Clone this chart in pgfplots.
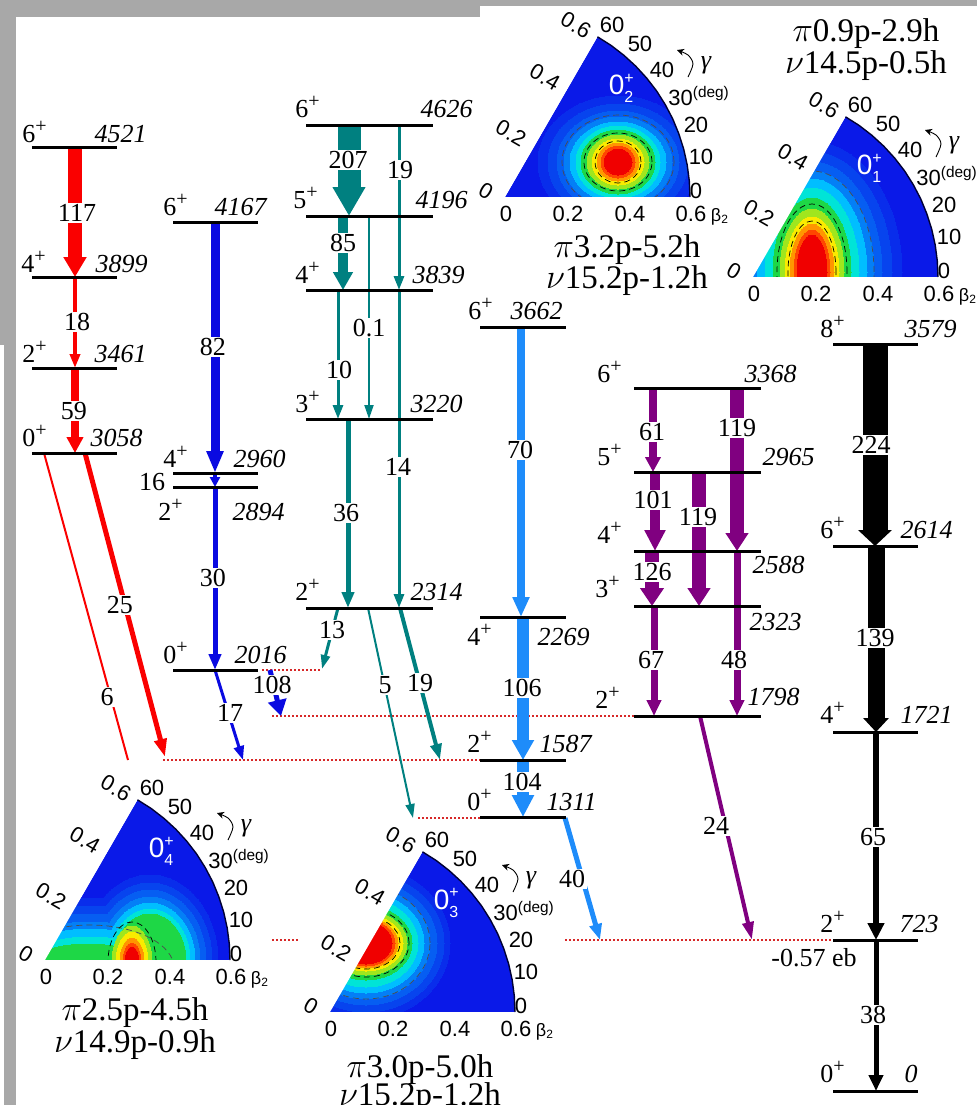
\documentclass[border=0pt]{standalone}
\usepackage{fontspec}
\setmainfont{Liberation Serif}
\setsansfont{Liberation Sans}
\usepackage{pgfplots}
\pgfplotsset{compat=1.18}
\usepackage{pgfplotstable}
\usetikzlibrary{arrows.meta}

\definecolor{cRed}{RGB}{250,0,0}
\definecolor{cBlue}{RGB}{10,10,225}
\definecolor{cTeal}{RGB}{0,128,128}
\definecolor{cLBlue}{RGB}{30,140,250}
\definecolor{cPurp}{RGB}{128,0,128}
\definecolor{cDot}{RGB}{215,40,40}
\definecolor{cGray}{RGB}{168,168,168}
\definecolor{pB}{RGB}{10,25,232}
\definecolor{pC1}{RGB}{0,190,255}
\colorlet{h1}{pB!88!pC1}
\colorlet{h2}{pB!74!pC1}
\colorlet{h3}{pB!58!pC1}
\colorlet{h4}{pB!38!pC1}
\definecolor{pC2}{RGB}{0,228,215}
\definecolor{pG}{RGB}{30,215,70}
\definecolor{pYG}{RGB}{160,230,30}
\definecolor{pY}{RGB}{250,235,0}
\definecolor{pO}{RGB}{255,150,0}
\definecolor{pRO}{RGB}{255,70,0}
\definecolor{pR}{RGB}{240,0,0}

\pgfplotstableread{
dx dy
0 0
185 0
184.3 16.1
182.2 32.1
178.7 47.9
173.8 63.3
167.7 78.2
160.2 92.5
151.6 106.1
141.7 118.9
130.8 130.8
118.9 141.7
106.1 151.6
92.5 160.2
}\sectortab
\pgfplotstableread{
dx dy
185 0
184.3 16.1
182.2 32.1
178.7 47.9
173.8 63.3
167.7 78.2
160.2 92.5
151.6 106.1
141.7 118.9
130.8 130.8
118.9 141.7
106.1 151.6
92.5 160.2
}\arctab
\pgfplotstableread{
dx dy
185 0
184.3 16.1
182.2 32.1
178.7 47.9
173.8 63.3
167.7 78.2
160.2 92.5
151.6 106.1
141.7 118.9
130.8 130.8
118.9 141.7
106.1 151.6
92.5 160.2
92.5 185
215 185
215 0
}\omasktab
\pgfplotstableread{
dx dy
0 0
92.5 160.2
-50 160.2
-50 0
}\lmasktab
\pgfplotstableread{
dx dy
-50 0
205 0
205 -140
-50 -140
}\bmasktab
\pgfplotstableread{
dx dy
183 120
188 133
183 142
172 147
}\gamtab

\newcommand{\blob}[4]{\addplot[only marks, mark=*, mark size={#2*0.5}, mark options={fill=#4, draw=#4, line width=0pt, yscale={#3/#2}}] coordinates {#1};}
\newcommand{\cont}[4]{\addplot[only marks, mark=o, mark size={#2*0.5}, mark options={draw=#4, line width=0.35pt, densely dashed, yscale={#3/#2}}] coordinates {#1};}
\newcommand{\sectorfill}[2]{\addplot[fill=pB, draw=none] table[x expr=\thisrow{dx}+#1, y expr=#2-\thisrow{dy}] {\sectortab};}
\newcommand{\sectorfinish}[2]{%
\addplot[fill=white, draw=none] table[x expr=\thisrow{dx}+#1, y expr=#2-\thisrow{dy}] {\lmasktab};
\addplot[fill=white, draw=none] table[x expr=\thisrow{dx}+#1, y expr=#2-\thisrow{dy}] {\bmasktab};
\addplot[fill=white, draw=none] table[x expr=\thisrow{dx}+#1, y expr=#2-\thisrow{dy}] {\omasktab};
\addplot[draw=black!80!blue, line width=0.7pt] table[x expr=\thisrow{dx}+#1, y expr=#2-\thisrow{dy}] {\arctab};
\addplot[black, line width=0.45pt, smooth, -{Stealth[length=3.5pt,width=3.5pt]}] table[x expr=\thisrow{dx}+#1, y expr=#2-\thisrow{dy}] {\gamtab};
}
\tikzset{
 pl/.style={font=\sffamily\fontsize{11}{12}\selectfont, inner sep=0pt},
 pls/.style={font=\sffamily\fontsize{9}{10}\selectfont, inner sep=0pt},
 tt/.style={font=\fontsize{16.5}{18}\selectfont, inner sep=0pt},
 num/.style={font=\fontsize{13}{15}\selectfont, fill=white, inner sep=0.8pt},
 sw/.style={font=\fontsize{13}{15}\selectfont, inner sep=0pt, anchor=base west},
 ee/.style={font=\fontsize{13}{15}\selectfont\itshape, inner sep=0pt, anchor=base east},
}
\newcommand{\spin}[1]{#1\raisebox{0.8ex}{\fontsize{10}{10}\selectfont +}}
\newcommand{\polarlabels}[3]{%
\node[pl] at (axis cs:{#1+1},{#2+17}) {0};
\node[pl] at (axis cs:{#1+63},{#2+17}) {0.2};
\node[pl] at (axis cs:{#1+125},{#2+17}) {0.4};
\node[pl] at (axis cs:{#1+186},{#2+17}) {0.6};
\node[pls] at (axis cs:{#1+215},{#2+20}) {β\textsubscript{2}};
\node[pl,rotate=-30] at (axis cs:{#1-19},{#2-6}) {0};
\node[pl,rotate=-30] at (axis cs:{#1+6},{#2-64}) {0.2};
\node[pl,rotate=-30] at (axis cs:{#1+40},{#2-120}) {0.4};
\node[pl,rotate=-30] at (axis cs:{#1+71},{#2-172}) {0.6};
\node[pl] at (axis cs:{#1+107},{#2-172}) {60};
\node[pl] at (axis cs:{#1+135},{#2-153}) {50};
\node[pl] at (axis cs:{#1+157},{#2-127}) {40};
\node[pl,anchor=west] at (axis cs:{#1+163},{#2-101}) {30\textsuperscript{(deg)}};
\node[pl] at (axis cs:{#1+191},{#2-72}) {20};
\node[pl] at (axis cs:{#1+196},{#2-40}) {10};
\node[pl] at (axis cs:{#1+191},{#2-6}) {0};
\node[font=\itshape\fontsize{13}{13}\selectfont, inner sep=0pt] at (axis cs:{#1+201},{#2-132}) {γ};
\node[text=white, font=\sffamily\fontsize{14}{14}\selectfont, inner sep=0pt] at (axis cs:{#1+116},{#2-109}) {0\makebox[0pt][l]{\raisebox{0.8ex}{\fontsize{8}{8}\selectfont +}}\raisebox{-0.5ex}{\fontsize{8}{8}\selectfont #3}};
}

\begin{document}
\begin{tikzpicture}
\useasboundingbox (0,0) rectangle (488.5pt,552.5pt);
\clip (0,0) rectangle (488.5pt,552.5pt);
\begin{axis}[
  at={(0,0)}, anchor=south west,
  scale only axis, width=488.5pt, height=552.5pt,
  xmin=0, xmax=977, ymin=0, ymax=1105, y dir=reverse,
  hide axis, clip marker paths=true,
]
% ---------------- polar maps ----------------
\sectorfill{505}{197}
\sectorfill{753}{277}
\sectorfill{45}{960}
\sectorfill{330}{1012}
% 0_2
\blob{(618,162)}{80}{66}{h1}
\blob{(618,162)}{70}{58}{h2}
\blob{(618,162)}{61}{51}{h3}
\blob{(618,162)}{54}{45}{h4}
\blob{(618,162)}{48}{40}{pC1}
\blob{(618,162)}{42}{36}{pC2}
\blob{(618,162)}{37}{32}{pG}
\blob{(618,162)}{31}{27}{pYG}
\blob{(618,162)}{26}{23}{pY}
\blob{(618,162)}{21}{19}{pO}
\blob{(618,162)}{17}{16}{pRO}
\blob{(618,162)}{14}{13}{pR}
\cont{(618,162)}{56}{47}{black!70}
\cont{(618,162)}{34}{29}{black}
\cont{(618,162)}{23}{21}{black}
% 0_1
\blob{(812,272)}{90}{130}{h1}
\blob{(812,272)}{80}{120}{h2}
\blob{(812,272)}{70}{110}{h3}
\blob{(812,272)}{62}{101}{h4}
\blob{(812,272)}{55}{93}{pC1}
\blob{(812,272)}{47}{84}{pC2}
\blob{(812,272)}{39}{74}{pG}
\blob{(812,272)}{32}{63}{pYG}
\blob{(812,272)}{27}{55}{pY}
\blob{(812,272)}{22}{48}{pO}
\blob{(812,272)}{18}{42}{pRO}
\blob{(812,272)}{15}{37}{pR}
\cont{(812,272)}{62}{101}{black!70}
\cont{(812,272)}{35}{68}{black}
\cont{(812,272)}{24}{51}{black}
% 0_4
\blob{(90,968)}{115}{70}{h1}
\blob{(150,960)}{68}{85}{h1}
\blob{(90,968)}{105}{62}{h2}
\blob{(150,960)}{62}{77}{h2}
\blob{(90,968)}{96}{54}{h3}
\blob{(150,960)}{56}{70}{h3}
\blob{(90,968)}{88}{46}{h4}
\blob{(150,960)}{50}{63}{h4}
\blob{(90,968)}{80}{39}{pC1}
\blob{(150,960)}{45}{57}{pC1}
\blob{(90,968)}{71}{31}{pC2}
\blob{(150,960)}{40}{51}{pC2}
\blob{(88,968)}{62}{24}{pG}
\blob{(150,960)}{36}{46}{pG}
\blob{(132,962)}{20}{36}{pYG}
\blob{(132,962)}{16}{30}{pY}
\blob{(132,962)}{12}{24}{pO}
\blob{(132,962)}{9}{19}{pRO}
\blob{(132,962)}{7}{15}{pR}
\cont{(90,968)}{84}{43}{black!70}
\cont{(132,962)}{24}{40}{black}
% 0_3
\blob{(366,943)}{84}{76}{h1}
\blob{(366,943)}{78}{69}{h2}
\blob{(366,943)}{71}{62}{h3}
\blob{(366,943)}{64}{56}{h4}
\blob{(366,943)}{58}{50}{pC1}
\blob{(366,943)}{52}{44}{pC2}
\blob{(366,943)}{46}{37}{pG}
\blob{(366,943)}{41}{32}{pYG}
\blob{(366,943)}{37}{28}{pY}
\blob{(366,943)}{32}{25}{pO}
\blob{(366,943)}{29}{23}{pRO}
\blob{(366,943)}{26}{21}{pR}
\cont{(366,943)}{64}{56}{black!70}
\cont{(366,943)}{43}{34}{black}
\cont{(366,943)}{34}{26}{black}
% masks, arcs
\sectorfinish{505}{197}
\sectorfinish{753}{277}
\sectorfinish{45}{960}
\sectorfinish{330}{1012}
\polarlabels{505}{197}{2}
\polarlabels{753}{277}{1}
\polarlabels{45}{960}{4}
\polarlabels{330}{1012}{3}
% titles of maps
\node[tt] at (627,250) {$\pi$3.2p-5.2h};
\node[tt] at (627,281) {$\nu$15.2p-1.2h};
\node[tt] at (866,34) {$\pi$0.9p-2.9h};
\node[tt] at (866,66) {$\nu$14.5p-0.5h};
\node[tt] at (135,1013) {$\pi$2.5p-4.5h};
\node[tt] at (135,1045) {$\nu$14.9p-0.9h};
\node[tt] at (420,1070) {$\pi$3.0p-5.0h};
\node[tt] at (420,1098) {$\nu$15.2p-1.2h};

% ---------------- dotted reference lines ----------------
\addplot[cDot, line width=1pt, densely dotted] coordinates {(163,760) (480,760)};
\addplot[cDot, line width=1pt, densely dotted] coordinates {(418,818) (480,818)};
\addplot[cDot, line width=1pt, densely dotted] coordinates {(272,716) (634,716)};
\addplot[cDot, line width=1pt, densely dotted] coordinates {(262,670) (322,670)};
\addplot[cDot, line width=1pt, densely dotted] coordinates {(272,940) (300,940)};
\addplot[cDot, line width=1pt, densely dotted] coordinates {(565,940) (833,940)};

% ---------------- transitions ----------------
% red
\addplot[cRed, line width=7pt, -{Triangle[width=11pt,length=10pt]}] coordinates {(75,147) (75,277)};
\addplot[cRed, line width=2pt, -{Triangle[width=5pt,length=7pt]}] coordinates {(75,277) (75,368)};
\addplot[cRed, line width=4pt, -{Triangle[width=8pt,length=8pt]}] coordinates {(75,368) (75,453)};
\addplot[cRed, line width=2.5pt, -{Triangle[width=6pt,length=9pt]}] coordinates {(85,453) (165,757)};
\addplot[cRed, line width=1pt] coordinates {(44,453) (128,760)};
% blue
\addplot[cBlue, line width=4.5pt, -{Triangle[width=8pt,length=11pt]}] coordinates {(215,222) (215,473)};
\addplot[cBlue, line width=2pt, -{Triangle[width=5pt,length=5pt]}] coordinates {(215,473) (215,487)};
\addplot[cBlue, line width=2.5pt, -{Triangle[width=6pt,length=8pt]}] coordinates {(215,487) (215,670)};
\addplot[cBlue, line width=1.5pt, -{Triangle[width=5pt,length=7pt]}] coordinates {(215,670) (243,760)};
\addplot[cBlue, line width=2.5pt, -{Triangle[width=9pt,length=8pt]}] coordinates {(270,670) (281,716)};
% teal
\addplot[cTeal, line width=11.5pt, -{Triangle[width=15.5pt,length=14.5pt]}] coordinates {(349,125) (349,216)};
\addplot[cTeal, line width=1.5pt, -{Triangle[width=5pt,length=7pt]}] coordinates {(399,125) (399,290)};
\addplot[cTeal, line width=5pt, -{Triangle[width=9.5pt,length=9pt]}] coordinates {(343,216) (343,290)};
\addplot[cTeal, line width=1pt, -{Triangle[width=4.5pt,length=7pt]}] coordinates {(369,216) (369,419)};
\addplot[cTeal, line width=1.5pt, -{Triangle[width=5pt,length=7pt]}] coordinates {(338,290) (338,419)};
\addplot[cTeal, line width=1.5pt, -{Triangle[width=5pt,length=7pt]}] coordinates {(399,290) (399,608)};
\addplot[cTeal, line width=2.5pt, -{Triangle[width=6pt,length=8pt]}] coordinates {(348,419) (348,608)};
\addplot[cTeal, line width=1.5pt, -{Triangle[width=4.5pt,length=7pt]}] coordinates {(338,608) (322,669)};
\addplot[cTeal, line width=1pt, -{Triangle[width=4.5pt,length=7pt]}] coordinates {(368,608) (413,818)};
\addplot[cTeal, line width=2pt, -{Triangle[width=5.5pt,length=8pt]}] coordinates {(400,608) (440,760)};
% light blue
\addplot[cLBlue, line width=4pt, -{Triangle[width=8pt,length=10pt]}] coordinates {(521,327) (521,617)};
\addplot[cLBlue, line width=6pt, -{Triangle[width=10.5pt,length=10pt]}] coordinates {(523,617) (523,760)};
\addplot[cLBlue, line width=6pt, -{Triangle[width=10.5pt,length=11pt]}] coordinates {(523,760) (523,817)};
\addplot[cLBlue, line width=2.5pt, -{Triangle[width=6pt,length=8pt]}] coordinates {(565,818) (600,940)};
% purple
\addplot[cPurp, line width=4pt, -{Triangle[width=7.5pt,length=7.5pt]}] coordinates {(653,388) (653,472)};
\addplot[cPurp, line width=7pt, -{Triangle[width=11pt,length=9pt]}] coordinates {(737,388) (737,551)};
\addplot[cPurp, line width=5pt, -{Triangle[width=10pt,length=10.5pt]}] coordinates {(655,472) (655,551)};
\addplot[cPurp, line width=7pt, -{Triangle[width=11pt,length=9pt]}] coordinates {(699,472) (699,606)};
\addplot[cPurp, line width=7pt, -{Triangle[width=11.5pt,length=9pt]}] coordinates {(652,551) (652,606)};
\addplot[cPurp, line width=3.5pt, -{Triangle[width=7pt,length=8pt]}] coordinates {(654,606) (654,716)};
\addplot[cPurp, line width=3.5pt, -{Triangle[width=7pt,length=8pt]}] coordinates {(737,551) (737,716)};
\addplot[cPurp, line width=2pt, -{Triangle[width=5.5pt,length=9pt]}] coordinates {(700,716) (752,940)};
% black
\addplot[black, line width=12.5pt, -{Triangle[width=16.5pt,length=8pt]}] coordinates {(875,344) (875,546)};
\addplot[black, line width=8.5pt, -{Triangle[width=12.5pt,length=7pt]}] coordinates {(876,546) (876,732)};
\addplot[black, line width=3pt, -{Triangle[width=8pt,length=8.5pt]}] coordinates {(876,732) (876,940)};
\addplot[black, line width=2.5pt, -{Triangle[width=7pt,length=8pt]}] coordinates {(876,940) (876,1091)};

% ---------------- levels ----------------
\addplot[black, line width=1.5pt] coordinates {(32,147) (117,147)};
\addplot[black, line width=1.5pt] coordinates {(32,277) (117,277)};
\addplot[black, line width=1.5pt] coordinates {(32,368) (117,368)};
\addplot[black, line width=1.5pt] coordinates {(32,453) (117,453)};
\addplot[black, line width=1.5pt] coordinates {(173,222) (258,222)};
\addplot[black, line width=1.5pt] coordinates {(173,473) (258,473)};
\addplot[black, line width=1.5pt] coordinates {(173,487) (258,487)};
\addplot[black, line width=1.5pt] coordinates {(173,670) (258,670)};
\addplot[black, line width=1.5pt] coordinates {(306,125) (433,125)};
\addplot[black, line width=1.5pt] coordinates {(306,216) (433,216)};
\addplot[black, line width=1.5pt] coordinates {(306,290) (433,290)};
\addplot[black, line width=1.5pt] coordinates {(306,419) (433,419)};
\addplot[black, line width=1.5pt] coordinates {(306,608) (433,608)};
\addplot[black, line width=1.5pt] coordinates {(480,327) (566,327)};
\addplot[black, line width=1.5pt] coordinates {(480,617) (566,617)};
\addplot[black, line width=1.5pt] coordinates {(480,760) (566,760)};
\addplot[black, line width=1.5pt] coordinates {(480,817) (566,817)};
\addplot[black, line width=1.5pt] coordinates {(634,388) (761,388)};
\addplot[black, line width=1.5pt] coordinates {(634,472) (761,472)};
\addplot[black, line width=1.5pt] coordinates {(634,551) (761,551)};
\addplot[black, line width=1.5pt] coordinates {(634,606) (761,606)};
\addplot[black, line width=1.5pt] coordinates {(634,716) (761,716)};
\addplot[black, line width=1.5pt] coordinates {(833,344) (918,344)};
\addplot[black, line width=1.5pt] coordinates {(833,546) (918,546)};
\addplot[black, line width=1.5pt] coordinates {(833,732) (918,732)};
\addplot[black, line width=1.5pt] coordinates {(833,940) (918,940)};
\addplot[black, line width=1.5pt] coordinates {(833,1091) (918,1091)};

% ---------------- level labels ----------------
\node[sw] at (22,142) {\spin{6}};  \node[ee] at (147,142) {4521};
\node[sw] at (21,272) {\spin{4}};  \node[ee] at (148,272) {3899};
\node[sw] at (22,362) {\spin{2}};  \node[ee] at (147,362) {3461};
\node[sw] at (22,446) {\spin{0}};  \node[ee] at (143,446) {3058};
\node[sw] at (163,215) {\spin{6}}; \node[ee] at (267,215) {4167};
\node[sw] at (163,467) {\spin{4}}; \node[ee] at (286,467) {2960};
\node[sw] at (158,520) {\spin{2}}; \node[ee] at (285,520) {2894};
\node[sw] at (163,663) {\spin{0}}; \node[ee] at (287,663) {2016};
\node[sw] at (295,117) {\spin{6}}; \node[ee] at (473,117) {4626};
\node[sw] at (293,208) {\spin{5}}; \node[ee] at (468,208) {4196};
\node[sw] at (295,283) {\spin{4}}; \node[ee] at (465,283) {3839};
\node[sw] at (295,412) {\spin{3}}; \node[ee] at (463,412) {3220};
\node[sw] at (295,600) {\spin{2}}; \node[ee] at (463,600) {2314};
\node[sw] at (468,319) {\spin{6}}; \node[ee] at (563,319) {3662};
\node[sw] at (467,645) {\spin{4}}; \node[ee] at (590,645) {2269};
\node[sw] at (467,752) {\spin{2}}; \node[ee] at (592,752) {1587};
\node[sw] at (467,810) {\spin{0}}; \node[ee] at (597,810) {1311};
\node[sw] at (597,382) {\spin{6}}; \node[ee] at (797,382) {3368};
\node[sw] at (597,465) {\spin{5}}; \node[ee] at (815,465) {2965};
\node[sw] at (597,543) {\spin{4}}; \node[ee] at (805,573) {2588};
\node[sw] at (595,597) {\spin{3}}; \node[ee] at (802,630) {2323};
\node[sw] at (595,708) {\spin{2}}; \node[ee] at (800,705) {1798};
\node[sw] at (820,337) {\spin{8}}; \node[ee] at (957,337) {3579};
\node[sw] at (820,538) {\spin{6}}; \node[ee] at (953,538) {2614};
\node[sw] at (820,723) {\spin{4}}; \node[ee] at (953,723) {1721};
\node[sw] at (820,932) {\spin{2}}; \node[ee] at (939,932) {723};
\node[sw] at (820,1082) {\spin{0}}; \node[ee] at (918,1082) {0};
\node[font=\fontsize{13}{15}\selectfont, inner sep=0pt] at (814,958) {-0.57 eb};
\node[font=\fontsize{13}{15}\selectfont, inner sep=0pt] at (152,482) {16};

% ---------------- transition labels ----------------
\node[num] at (77,213) {117};
\node[num] at (77,322) {18};
\node[num] at (74,411) {59};
\node[num] at (120,605) {25};
\node[num] at (107,697) {6};
\node[num] at (213,347) {82};
\node[num] at (213,578) {30};
\node[num] at (230,713) {17};
\node[num] at (272,685) {108};
\node[num] at (348,160) {207};
\node[num] at (400,170) {19};
\node[num] at (343,243) {85};
\node[num] at (369,328) {0.1};
\node[num] at (339,370) {10};
\node[num] at (398,467) {14};
\node[num] at (346,513) {36};
\node[num] at (332,630) {13};
\node[num] at (385,685) {5};
\node[num] at (420,683) {19};
\node[num] at (520,450) {70};
\node[num] at (522,688) {106};
\node[num] at (522,782) {104};
\node[num] at (572,879) {40};
\node[num] at (652,432) {61};
\node[num] at (737,428) {119};
\node[num] at (653,500) {101};
\node[num] at (698,517) {119};
\node[num] at (652,572) {126};
\node[num] at (651,660) {67};
\node[num] at (734,660) {48};
\node[num] at (716,826) {24};
\node[num] at (871,445) {224};
\node[num] at (875,638) {139};
\node[num] at (873,837) {65};
\node[num] at (873,1015) {38};

% ---------------- gray frame ----------------
\addplot[fill=cGray, draw=none] coordinates {(0,0) (977,0) (977,6) (0,6)} -- cycle;
\addplot[fill=cGray, draw=none] coordinates {(0,0) (480,0) (480,17) (0,17)} -- cycle;
\addplot[fill=cGray, draw=none] coordinates {(0,0) (16,0) (16,345) (0,345)} -- cycle;
\addplot[fill=cGray, draw=none] coordinates {(4,345) (16,345) (16,1105) (4,1105)} -- cycle;
\end{axis}
\end{tikzpicture}
\end{document}
